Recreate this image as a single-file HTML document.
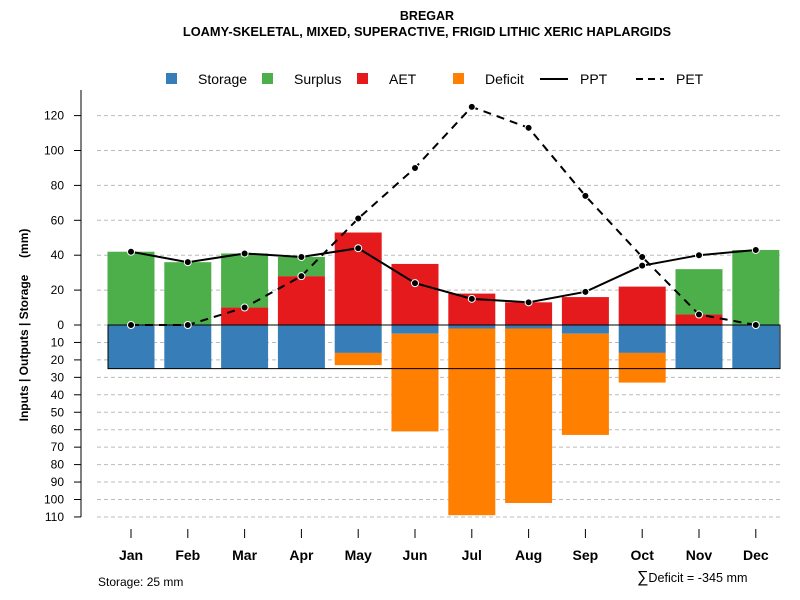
<!DOCTYPE html>
<html><head><meta charset="utf-8"><style>
body{margin:0;background:#fff}
svg{display:block;font-family:"Liberation Sans",sans-serif}
</style></head><body>
<svg id="c" width="800" height="600" xmlns="http://www.w3.org/2000/svg">
<text x="427" y="20" text-anchor="middle" font-size="12.5" font-weight="bold">BREGAR</text>
<text x="427" y="36" text-anchor="middle" font-size="12.8" font-weight="bold">LOAMY-SKELETAL, MIXED, SUPERACTIVE, FRIGID LITHIC XERIC HAPLARGIDS</text>
<g font-size="14">
<rect x="166" y="73" width="11" height="11" fill="#377eb8"/><text x="198" y="84">Storage</text>
<rect x="262" y="73" width="11" height="11" fill="#4daf4a"/><text x="294" y="84">Surplus</text>
<rect x="357" y="73" width="11" height="11" fill="#e41a1c"/><text x="389" y="84">AET</text>
<rect x="453" y="73" width="11" height="11" fill="#ff7f00"/><text x="485" y="84">Deficit</text>
<line x1="540" y1="79" x2="568" y2="79" stroke="#000" stroke-width="2"/><text x="580" y="84">PPT</text>
<line x1="636" y1="79" x2="664" y2="79" stroke="#000" stroke-width="2" stroke-dasharray="7,5"/><text x="676" y="84">PET</text>
</g>
<text transform="translate(28,325) rotate(-90)" text-anchor="middle" font-size="12" font-weight="bold">Inputs | Outputs | Storage &#160;&#160;&#160;&#160;(mm)</text>
<text x="98" y="586" font-size="12">Storage: 25 mm</text>
<text x="637" y="582" font-size="12.6"><tspan font-size="16">∑</tspan>Deficit = -345 mm</text>
<g id="plot"></g>
</svg>
<script>
const months=["Jan","Feb","Mar","Apr","May","Jun","Jul","Aug","Sep","Oct","Nov","Dec"];
const surplus=[42,36,31,11,0,0,0,0,0,0,26,43];
const aet=[0,0,10,28,53,35,18,13,16,22,6,0];
const storage=[25,25,25,25,16,5,2,2,5,16,25,25];
const deficit=[0,0,0,0,7,56,107,100,58,17,0,0];
const ppt=[42,36,41,39,44,24,15,13,19,34,40,43];
const pet=[0,0,10,28,61,90,125,113,74,39,6,0];
const upTicks=[0,20,40,60,80,100,120];
const downTicks=[10,20,30,40,50,60,70,80,90,100,110];
const NS="http://www.w3.org/2000/svg";
const g=document.getElementById('plot');
const y0=325,k=1.745;
const yUp=v=>y0-v*k, yDn=v=>y0+v*k;
const xM=i=>131+i*56.8;
const bw=47;
function el(t,a,p){const e=document.createElementNS(NS,t);for(const n in a)e.setAttribute(n,a[n]);(p||g).appendChild(e);return e;}
upTicks.forEach(v=>{
 const l=el('line',{x1:97,x2:780,y1:yUp(v),y2:yUp(v),stroke:'#bbb','stroke-dasharray':'4,3'});
 
 
 const tk=el('line',{x1:74,x2:81,y1:yUp(v),y2:yUp(v),stroke:'#000'});
 
 
 const t=el('text',{x:64,y:yUp(v)+4,'text-anchor':'end','font-size':12});t.textContent=v;
 
 
});
downTicks.forEach(v=>{
 const l=el('line',{x1:97,x2:780,y1:yDn(v),y2:yDn(v),stroke:'#bbb','stroke-dasharray':'4,3'});
 
 
 const tk=el('line',{x1:74,x2:81,y1:yDn(v),y2:yDn(v),stroke:'#000'});
 
 
 const t=el('text',{x:64,y:yDn(v)+4,'text-anchor':'end','font-size':12});t.textContent=v;
 
 
});
const ax=el('line',{x1:81,x2:81,y1:90,y2:yDn(110),stroke:'#000'});


months.forEach((m,i)=>{
 const x=xM(i);
 if(aet[i]>0){const r=el('rect',{x:x-bw/2,y:yUp(aet[i]),width:bw,height:aet[i]*k,fill:'#e41a1c'});
  
  }
 if(surplus[i]>0){const r=el('rect',{x:x-bw/2,y:yUp(aet[i]+surplus[i]),width:bw,height:surplus[i]*k,fill:'#4daf4a'});
  
  }
 if(storage[i]>0){const r=el('rect',{x:x-bw/2,y:y0,width:bw,height:storage[i]*k,fill:'#377eb8'});
  
  }
 if(deficit[i]>0){const r=el('rect',{x:x-bw/2,y:yDn(storage[i]),width:bw,height:deficit[i]*k,fill:'#ff7f00'});
  
  }
 const tk=el('line',{x1:x,x2:x,y1:529,y2:538,stroke:'#000'});
 
 
 const t=el('text',{x:x,y:560,'text-anchor':'middle','font-size':14,'font-weight':'bold'});t.textContent=m;
 
 
});
const box=el('rect',{x:108,y:y0,width:672,height:25*k,fill:'none',stroke:'#000','stroke-width':1});


function series(vals,name,dash){
 const pts=vals.map((v,i)=>xM(i)+','+yUp(v)).join(' ');
 const p=el('polyline',{points:pts,fill:'none',stroke:'#000','stroke-width':2});
 if(dash)p.setAttribute('stroke-dasharray','8,6');
 
 
 vals.forEach((v,i)=>{const c=el('circle',{cx:xM(i),cy:yUp(v),r:3.5,fill:'#000',stroke:'#fff','stroke-width':1});
  
  });
}
series(ppt,'ppt',false);
series(pet,'pet',true);
</script>
</body></html>
